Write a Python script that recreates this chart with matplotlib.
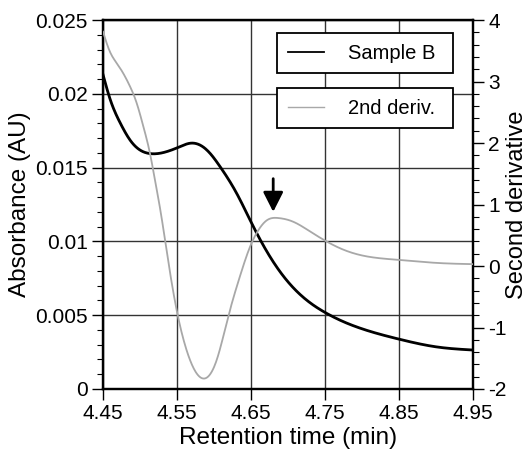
import numpy as np
import matplotlib
matplotlib.use('Agg')
import matplotlib.pyplot as plt
from matplotlib.lines import Line2D

plt.rcParams['font.family'] = ['Liberation Sans', 'DejaVu Sans']
plt.rcParams['axes.unicode_minus'] = False

# absorbance trace (left axis)
t_abs = [4.45, 4.4595, 4.473, 4.4865, 4.50, 4.5135, 4.536, 4.554, 4.5676, 4.581,
         4.5946, 4.608, 4.6307, 4.651, 4.6757, 4.698, 4.725, 4.752, 4.770,
         4.797, 4.849, 4.901, 4.95]
absorb = [0.02130, 0.01965, 0.01805, 0.01687, 0.01619, 0.01595, 0.01608, 0.01642, 0.01665, 0.01653,
          0.01597, 0.01508, 0.01325, 0.01122, 0.00896, 0.00738, 0.00603, 0.00513, 0.00467,
          0.00413, 0.00339, 0.00285, 0.00264]

# second derivative trace (right axis)
t_d2 = [4.45, 4.4595, 4.4685, 4.4775, 4.4865, 4.4955, 4.5045, 4.5135, 4.5205, 4.529, 4.5338,
        4.5496, 4.563, 4.5856, 4.6036, 4.6193, 4.635, 4.6486, 4.662, 4.671, 4.687,
        4.707, 4.730, 4.752, 4.770, 4.797, 4.849, 4.901, 4.95]
deriv2 = [3.81, 3.48, 3.30, 3.13, 2.92, 2.65, 2.27, 1.83, 1.38, 0.80, 0.42,
          -0.72, -1.37, -1.83, -1.53, -0.82, -0.17, 0.31, 0.62, 0.74, 0.78,
          0.72, 0.56, 0.40, 0.29, 0.18, 0.10, 0.05, 0.03]

xticks = [4.45, 4.55, 4.65, 4.75, 4.85, 4.95]
yticks_left = [0, 0.005, 0.01, 0.015, 0.02, 0.025]
ylabels_left = ['0', '0.005', '0.01', '0.015', '0.02', '0.025']
yticks_right = [-2, -1, 0, 1, 2, 3, 4]


def spline(x, y, n=600):
    # natural cubic spline through the read-off points
    x = np.asarray(x, float); y = np.asarray(y, float)
    k = len(x)
    h = np.diff(x)
    A = np.zeros((k, k)); b = np.zeros(k)
    A[0, 0] = A[-1, -1] = 1
    for i in range(1, k - 1):
        A[i, i - 1] = h[i - 1]
        A[i, i] = 2 * (h[i - 1] + h[i])
        A[i, i + 1] = h[i]
        b[i] = 6 * ((y[i + 1] - y[i]) / h[i] - (y[i] - y[i - 1]) / h[i - 1])
    M = np.linalg.solve(A, b)
    xs = np.linspace(x[0], x[-1], n)
    idx = np.clip(np.searchsorted(x, xs) - 1, 0, k - 2)
    a = x[idx + 1] - xs; c = xs - x[idx]; hh = h[idx]
    ys = (M[idx] * a**3 + M[idx + 1] * c**3) / (6 * hh) \
        + (y[idx] / hh - M[idx] * hh / 6) * a + (y[idx + 1] / hh - M[idx + 1] * hh / 6) * c
    return xs, ys


fig = plt.figure(figsize=(5.29, 4.5), dpi=100)
ax = fig.add_axes([103 / 529, 1 - 389 / 450, 370 / 529, 369 / 450])
ax2 = ax.twinx()

xs, ys = spline(t_abs, absorb)
ax.plot(xs, ys, color='black', lw=2.0, zorder=3)
xs2, ys2 = spline(t_d2, deriv2)
ax2.plot(xs2, ys2, color='#a8a8a8', lw=1.3, zorder=3)

ax.set_xlim(4.45, 4.95)
ax.set_ylim(0, 0.025)
ax2.set_ylim(-2, 4)
ax.set_xticks(xticks)
ax.set_xticklabels([f'{v:.2f}' for v in xticks])
ax.set_yticks(yticks_left)
ax.set_yticklabels(ylabels_left)
ax.set_yticks(np.arange(0, 0.0251, 0.001), minor=True)
ax2.set_yticks(yticks_right)
ax2.set_yticks(np.arange(-2, 4.01, 0.2), minor=True)

ax.grid(True, which='major', color='#333333', lw=1.0)
for a in (ax, ax2):
    a.tick_params(labelsize=15, length=8, width=1.0, direction='out', pad=3)
    a.tick_params(which='minor', length=4, width=0.8)
    for s in a.spines.values():
        s.set_linewidth(1.6)

ax.set_xlabel('Retention time (min)', fontsize=17.5, labelpad=3)
ax.set_ylabel('Absorbance (AU)', fontsize=17.5, labelpad=3)
ax2.set_ylabel('Second derivative', fontsize=17)
ax2.yaxis.set_label_coords(1.09, 0.5)

# arrow marking the shoulder
ax2.annotate('', xy=(4.680, 0.88), xytext=(4.680, 1.42),
             arrowprops=dict(arrowstyle='-|>,head_length=0.75,head_width=0.38',
                             color='black', lw=2.0,
                             mutation_scale=16, shrinkA=0, shrinkB=0))

# two separate legend boxes
legend_kw = dict(loc='upper left', mode='expand', fontsize=14.5, frameon=True,
                 fancybox=False, edgecolor='black', framealpha=1,
                 handlelength=1.8, borderpad=0.53, handletextpad=1.2, borderaxespad=0)
leg1 = ax2.legend([Line2D([], [], color='black', lw=1.3)], ['Sample B'],
                  bbox_to_anchor=(0.470, 0.965, 0.476, 0.0), **legend_kw)
leg1.get_frame().set_linewidth(1.3)
ax2.add_artist(leg1)
leg2 = ax2.legend([Line2D([], [], color='#a8a8a8', lw=1.0)], ['2nd deriv.'],
                  bbox_to_anchor=(0.470, 0.816, 0.476, 0.0), **legend_kw)
leg2.get_frame().set_linewidth(1.3)

fig.savefig('out.png', dpi=100)
